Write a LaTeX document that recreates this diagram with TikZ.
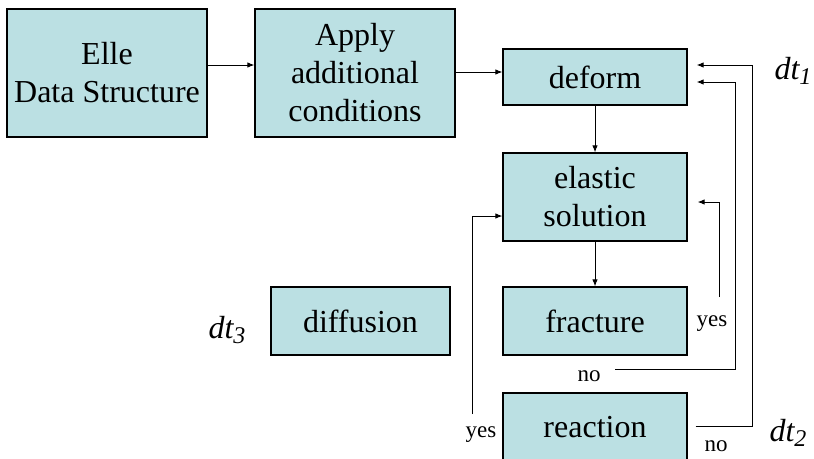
\documentclass[tikz,border=0pt]{standalone}
\usepackage{fontspec}
\setmainfont{Liberation Serif}
\usetikzlibrary{arrows.meta,calc}
\definecolor{boxfill}{RGB}{187,224,227}
\tikzset{
  procbox/.style={draw=black, line width=1.3pt, fill=boxfill, rectangle,
    align=center, inner sep=0pt, font=\fontsize{32}{38}\selectfont},
  link/.style={line width=0.9pt, -{Latex[length=7pt,width=5.5pt]}},
  lbl/.style={font=\fontsize{23}{25}\selectfont, inner sep=0pt},
  steplbl/.style={font=\fontsize{32}{34}\selectfont\itshape, inner sep=0pt}
}
\newcommand{\stepsub}[1]{\raisebox{-0.3ex}{\fontsize{24}{26}\selectfont\itshape #1}}
\begin{document}
\begin{tikzpicture}[x=1pt,y=-1pt]
\useasboundingbox (0,0) rectangle (814,458);

% process boxes
\node[procbox, minimum width=200pt, minimum height=128pt] (elle) at (107,73) {Elle\\Data Structure};
\node[procbox, minimum width=200pt, minimum height=128pt] (apply) at (355,73) {Apply\\additional\\conditions};
\node[procbox, minimum width=184pt, minimum height=56pt] (deform) at (595,77) {deform};
\node[procbox, minimum width=184pt, minimum height=88pt] (elastic) at (595,197) {elastic\\solution};
\node[procbox, minimum width=184pt, minimum height=68pt] (fracture) at (595,321) {fracture};
\node[procbox, minimum width=184pt, minimum height=68pt] (reaction) at (595,427) {reaction};
\node[procbox, minimum width=179pt, minimum height=68pt] (diffusion) at (360.5,321) {diffusion};

% time-step labels
\node[steplbl] (dt1) at (793,71) {dt\stepsub{1}};
\node[steplbl] (dt2) at (788,433) {dt\stepsub{2}};
\node[steplbl] (dt3) at (227,330) {dt\stepsub{3}};

% decision labels
\node[lbl] (fyes) at (712,324) {yes};
\node[lbl] (fno) at (589,376) {no};
\node[lbl] (ryes) at (481,435) {yes};
\node[lbl] (rno) at (716,446) {no};

% main flow
\coordinate (r1) at (0,65);
\coordinate (r2) at (0,72);
\draw[link] (elle.east |- r1) -- (apply.west |- r1);
\draw[link] (apply.east |- r2) -- (deform.west |- r2);
\draw[link] (deform.south) -- (elastic.north);
\draw[link] (elastic.south) -- (fracture.north);

% reaction "no": back to deform
\coordinate (o1) at (752,426);
\coordinate (o2) at (752,65);
\draw[link] ([xshift=8pt]reaction.east |- o1) -- (o1) -- (o2) -- ([xshift=9pt]deform.east |- o2);

% fracture "no": back to deform
\coordinate (m0) at (615,369);
\coordinate (m1) at (735,369);
\coordinate (m2) at (735,82);
\draw[link] (m0) -- (m1) -- (m2) -- ([xshift=9pt]deform.east |- m2);

% fracture "yes": back to elastic solution
\coordinate (i1) at (719,297);
\coordinate (i2) at (719,202);
\draw[link] (i1) -- (i2) -- ([xshift=10pt]elastic.east |- i2);

% reaction "yes": back to elastic solution
\coordinate (l1) at (472,414);
\coordinate (l2) at (472,216);
\draw[link] (l1) -- (l2) -- (elastic.west |- l2);
\end{tikzpicture}
\end{document}
